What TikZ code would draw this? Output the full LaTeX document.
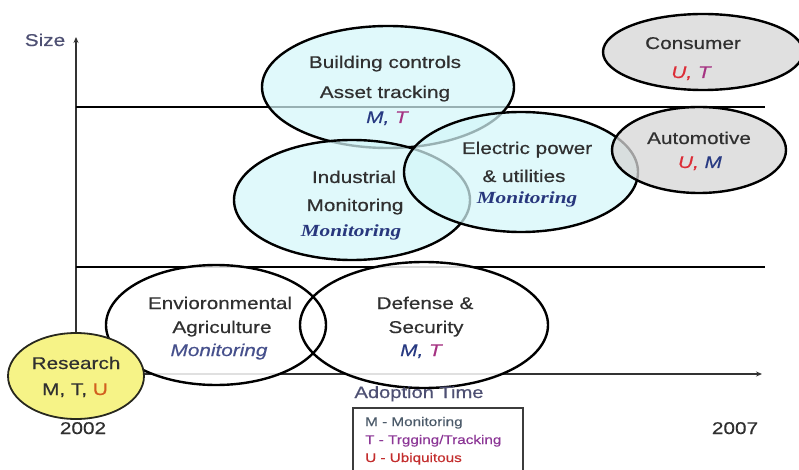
\documentclass[tikz,border=0pt]{standalone}
\usepackage{fontspec}
\setmainfont[FakeStretch=1.22,FakeBold=0.5]{Liberation Sans}
\newfontfamily\serifbi[FakeStretch=1.25]{Liberation Serif}
\usetikzlibrary{arrows.meta}
\definecolor{txt}{RGB}{48,48,48}
\definecolor{axtxt}{RGB}{78,80,115}
\definecolor{mblue}{RGB}{40,58,130}
\definecolor{tmag}{RGB}{165,50,130}
\definecolor{ured}{RGB}{220,45,55}
\definecolor{uorange}{RGB}{210,95,30}
\definecolor{monblue}{RGB}{40,55,125}
\definecolor{envmon}{RGB}{70,80,140}
\definecolor{cyanfill}{RGB}{212,246,249}
\definecolor{grayfill}{RGB}{214,214,214}
\definecolor{yelfill}{RGB}{246,243,135}
\definecolor{legm}{RGB}{75,90,105}
\definecolor{legt}{RGB}{140,55,150}
\definecolor{legu}{RGB}{195,45,45}
\begin{document}
\begin{tikzpicture}[x=1pt,y=-1pt,
  lbl/.style={font=\fontsize{17}{19}\selectfont, text=txt, inner sep=0pt, anchor=base},
  ital/.style={lbl, font=\fontsize{17}{19}\selectfont\itshape},
  bimon/.style={lbl, font=\fontsize{17}{19}\selectfont\serifbi\bfseries\itshape, text=monblue},
  leg/.style={font=\fontsize{12.5}{14}\selectfont, inner sep=0pt, anchor=base west},
  axline/.style={line width=1.4pt, draw={rgb,255:red,50;green,50;blue,50}},
  hline/.style={line width=1.3pt, draw=black},
  blob/.style={line width=2.4pt, draw=black},
  cyanblob/.style={blob, fill=cyanfill, fill opacity=0.72},
  grayblob/.style={blob, fill=grayfill, fill opacity=0.75},
]
\useasboundingbox (0,0) rectangle (799,470);
\clip (0,0) rectangle (799,470);

% axes and bands
\coordinate (yb) at (76,385);
\coordinate (yt) at (76,37);
\coordinate (xl) at (76,374);
\coordinate (xr) at (762,374);
\coordinate (h1l) at (76,107);
\coordinate (h1r) at (765,107);
\coordinate (h2l) at (76,267);
\coordinate (h2r) at (765,267);
\draw[axline, -{Stealth[length=6pt,width=5pt]}] (yb) -- (yt);
\draw[axline, -{Stealth[length=6pt,width=5pt]}] (xl) -- (xr);
\draw[hline] (h1l) -- (h1r);
\draw[hline] (h2l) -- (h2r);

% lower white ellipses
\coordinate (env) at (216,325);
\coordinate (def) at (424,325);
\fill[white, fill opacity=0.85] (env) ellipse [x radius=110, y radius=60];
\fill[white, fill opacity=0.85] (def) ellipse [x radius=124, y radius=63];
\draw[blob] (env) ellipse [x radius=110, y radius=60];
\draw[blob] (def) ellipse [x radius=124, y radius=63];

% research
\coordinate (res) at (76,376);
\draw[line width=1.8pt, draw={rgb,255:red,40;green,40;blue,30}, fill=yelfill] (res) ellipse [x radius=68, y radius=43];

% upper ellipses
\coordinate (bld) at (388,87);
\coordinate (ind) at (352,200);
\coordinate (ele) at (521,172);
\coordinate (aut) at (699,150);
\coordinate (con) at (703,52);
\path[cyanblob] (bld) ellipse [x radius=126, y radius=61];
\path[cyanblob] (ind) ellipse [x radius=118, y radius=60];
\path[cyanblob] (ele) ellipse [x radius=117, y radius=60];
\path[grayblob] (aut) ellipse [x radius=87, y radius=43];
\path[grayblob] (con) ellipse [x radius=100, y radius=38];

% texts
\node[lbl] (b1) at (385,68) {Building controls};
\node[lbl] (b2) at (385,98) {Asset tracking};
\node[ital] (b3) at (387,123) {\textcolor{mblue}{M,} \textcolor{tmag}{T}};

\node[lbl] (i1) at (354,183) {Industrial};
\node[lbl] (i2) at (355,211) {Monitoring};
\node[bimon] (i3) at (351,236) {Monitoring};

\node[lbl] (e1) at (527,154) {Electric power};
\node[lbl] (e2) at (524,182) {\& utilities};
\node[bimon] (e3) at (527,204) {Monitoring};

\node[lbl] (c1) at (693,49) {Consumer};
\node[ital] (c2) at (691,78) {\textcolor{ured}{U,} \textcolor{tmag}{T}};

\node[lbl] (a1) at (699,144) {Automotive};
\node[ital] (a2) at (700,168) {\textcolor{ured}{U,} \textcolor{mblue}{M}};

\node[lbl] (v1) at (220,309) {Envioronmental};
\node[lbl] (v2) at (222,333) {Agriculture};
\node[ital, text=envmon] (v3) at (219,356) {Monitoring};

\node[lbl] (d1) at (425,309) {Defense \&};
\node[lbl] (d2) at (426,333) {Security};
\node[ital] (d3) at (421,356) {\textcolor{mblue}{M,} \textcolor{tmag}{T}};

\node[lbl] (r1) at (76,369) {Research};
\node[lbl] (r2) at (75,395) {M, T, \textcolor{uorange}{U}};

\node[lbl] (y1) at (83,434) {2002};
\node[lbl] (y2) at (735,434) {2007};
\node[lbl, text=axtxt] (sz) at (45,46) {Size};
\node[lbl, text=axtxt, font=\fontsize{16.5}{18}\selectfont] (at) at (419,398) {Adoption Time};

% legend
\coordinate (lg1) at (353,408);
\coordinate (lg2) at (523,485);
\draw[line width=1.2pt, draw={rgb,255:red,60;green,60;blue,60}] (lg1) rectangle (lg2);
\node[leg, text=legm] (l1) at (365,426) {M - Monitoring};
\node[leg, text=legt] (l2) at (365,444) {T - Trgging/Tracking};
\node[leg, text=legu] (l3) at (365,462) {U - Ubiquitous};
\end{tikzpicture}
\end{document}
